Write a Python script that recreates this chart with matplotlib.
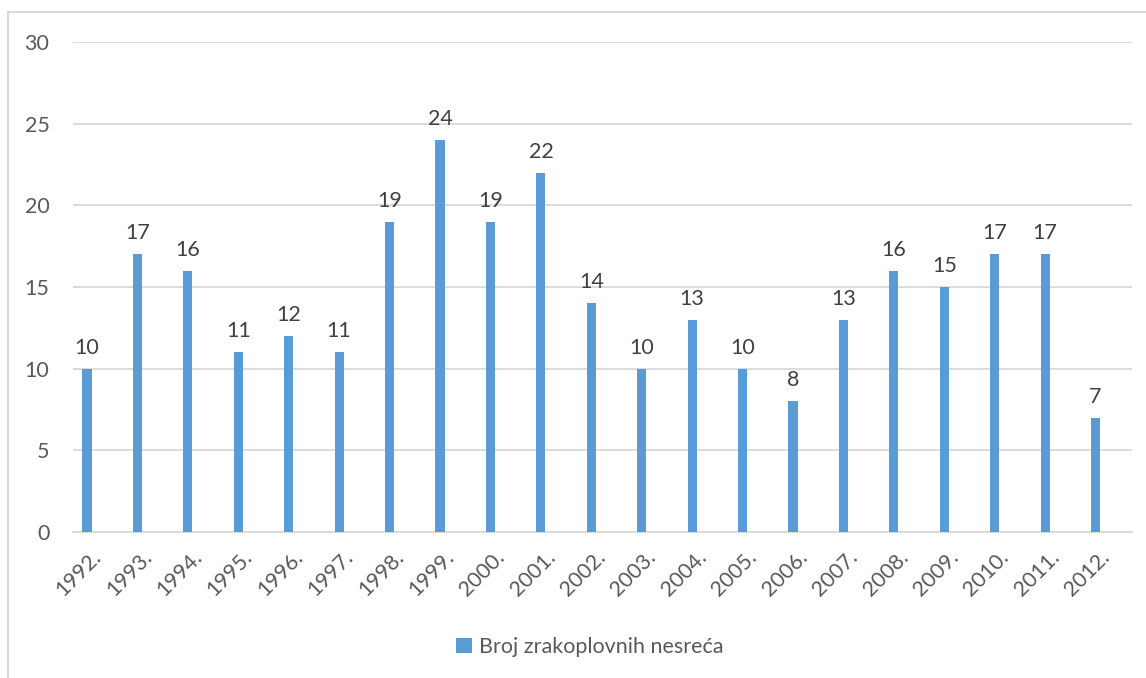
import matplotlib.pyplot as plt
import matplotlib.patches as mpatches
import numpy as np

plt.switch_backend('agg')
plt.rcParams['font.family'] = ['Lato', 'DejaVu Sans']

years = ['1992.', '1993.', '1994.', '1995.', '1996.', '1997.', '1998.',
         '1999.', '2000.', '2001.', '2002.', '2003.', '2004.', '2005.',
         '2006.', '2007.', '2008.', '2009.', '2010.', '2011.', '2012.']
accidents = [10, 17, 16, 11, 12, 11, 19, 24, 19, 22, 14, 10, 13, 10,
             8, 13, 16, 15, 17, 17, 7]
series_name = 'Broj zrakoplovnih nesreća'

bar_color = '#5B9BD5'
text_color = '#595959'
grid_color = '#D9D9D9'
fs = 15.5

W, H = 1146, 678
fig = plt.figure(figsize=(W / 100, H / 100), dpi=100)

# outer chart frame (only left and top visible in the reference)
frame = mpatches.Rectangle((8 / W, -0.2), 1.2, 1.2 - 12 / H, transform=fig.transFigure,
                           fill=False, edgecolor=grid_color, linewidth=1.5)
fig.patches.append(frame)

ax = fig.add_axes([73 / W, 1 - 532 / H, 1059 / W, 490 / H])

x = np.arange(len(years))
offset = -0.222
bars = ax.bar(x + offset, accidents, width=0.18, color=bar_color,
              label=series_name, zorder=3)

for xi, v in zip(x, accidents):
    ax.annotate(str(v), (xi + offset, v), xytext=(0, 8), textcoords='offset points',
                ha='center', va='bottom', fontsize=fs, color='#404040')

ax.set_xlim(-0.5, len(years) - 0.5)
ax.set_ylim(0, 30)
ax.set_yticks(range(0, 31, 5))
ax.yaxis.grid(True, color=grid_color, linewidth=1.3, zorder=0)
ax.set_axisbelow(True)

for s in ['top', 'right', 'left']:
    ax.spines[s].set_visible(False)
ax.spines['bottom'].set_color(grid_color)
ax.spines['bottom'].set_linewidth(1.3)

ax.set_xticks(x)
ax.set_xticklabels(years, rotation=45, ha='right', va='center',
                   rotation_mode='anchor')
ax.tick_params(axis='x', length=0, pad=16, labelsize=fs, labelcolor=text_color)
ax.tick_params(axis='y', length=0, pad=17, labelsize=fs, labelcolor=text_color)

leg = fig.legend(handles=[bars], labels=[series_name], loc='center',
                 bbox_to_anchor=(590 / W, 1 - 647 / H), frameon=False,
                 fontsize=fs, handlelength=0.7, handleheight=0.7,
                 handletextpad=0.35, labelcolor=text_color)

fig.savefig('out.png', dpi=100)
